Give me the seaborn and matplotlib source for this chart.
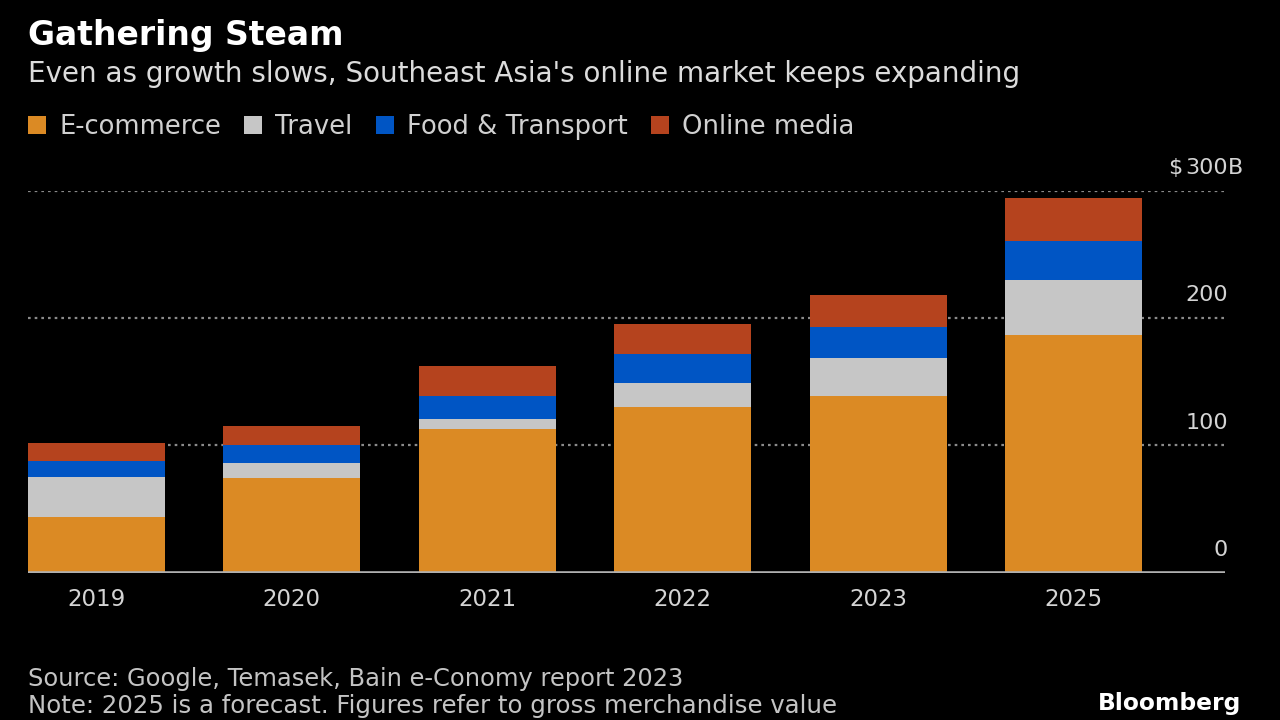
import numpy as np
import pandas as pd
import matplotlib
matplotlib.use("Agg")
import matplotlib.pyplot as plt
import matplotlib.transforms as mtrans
from matplotlib.patches import Patch
import seaborn as sns

# ---- data (US$ billions) ----
years = ["2019", "2020", "2021", "2022", "2023", "2025"]
ecommerce = [43.5, 74, 113, 130, 139, 187]
travel = [32, 12.5, 7.5, 19, 30, 43]
food_transport = [12.5, 13.5, 18.5, 22.5, 24, 30.5]
online_media = [14, 15.5, 23, 24, 25, 34]

series_names = ["E-commerce", "Travel", "Food & Transport", "Online media"]
series_values = [ecommerce, travel, food_transport, online_media]
colors = ["#DB8A24", "#C6C6C6", "#0055C4", "#B5431E"]

y_ticks = [0, 100, 200, 300]
y_tick_labels = ["0", "100", "200", "300"]

title = "Gathering Steam"
subtitle = "Even as growth slows, Southeast Asia's online market keeps expanding"
source = "Source: Google, Temasek, Bain e-Conomy report 2023"
note = "Note: 2025 is a forecast. Figures refer to gross merchandise value"

# ---- build table with cumulative tops ----
df = pd.DataFrame({"year": years})
for name, vals in zip(series_names, series_values):
    df[name] = vals
cum = df[series_names].cumsum(axis=1)

sns.set_theme(style="dark")
plt.rcParams["font.family"] = ["DejaVu Sans"]

W, H = 1280, 720
fig = plt.figure(figsize=(W / 100, H / 100), dpi=100, facecolor="black")
ax = fig.add_axes([28 / W, 1 - 572.7 / H, (1225 - 28) / W, (572.7 - 190.7) / H])
ax.set_facecolor("black")

# stacked bars: tallest cumulative first, lower segments drawn over it
for name, col in reversed(list(zip(series_names, colors))):
    sns.barplot(x=df["year"], y=cum[name], order=years, color=col,
                saturation=1, width=0.70, errorbar=None, ax=ax, zorder=3,
                edgecolor="none", linewidth=0)

ax.set_xlim(-0.35, 5.775)
ax.set_ylim(0, 300)
ax.set_xlabel("")
ax.set_ylabel("")
for s in ax.spines.values():
    s.set_visible(False)
ax.grid(False)

# dotted gridlines
for yv in y_ticks[1:]:
    ax.axhline(yv, color="#8a8a8a", lw=1.6, ls=(0, (1.2, 1.8)), zorder=1)
ax.axhline(0, color="#b0b0b0", lw=2.6, zorder=4)

ax.set_yticks([])
ax.tick_params(axis="x", length=0, pad=11, labelsize=16.5, colors="#d4d4d4")

# right-side y labels sitting above gridlines
base_tr = mtrans.blended_transform_factory(fig.transFigure, ax.transData)
lab_tr = mtrans.offset_copy(base_tr, fig=fig, y=12, units="points")
tick_texts = []
for yv, lab in zip(y_ticks, y_tick_labels):
    t = ax.text(1228 / W, yv, lab, transform=lab_tr, ha="right", va="baseline",
                fontsize=16, color="#d4d4d4")
    tick_texts.append(t)
top = tick_texts[-1]
ax.annotate("$", xy=(0, 0), xycoords=top, xytext=(-2, 0), textcoords="offset points",
            ha="right", va="bottom", fontsize=16, color="#d4d4d4")
ax.annotate("B", xy=(1, 0), xycoords=top, xytext=(0, 0), textcoords="offset points",
            ha="left", va="bottom", fontsize=16, color="#d4d4d4")

# titles
fig.text(28 / W, 1 - 45 / H, title, fontsize=23.8, fontweight="bold",
         color="white", ha="left", va="baseline")
fig.text(28 / W, 1 - 82 / H, subtitle, fontsize=20, color="#dcdcdc",
         ha="left", va="baseline")

# legend
handles = [Patch(facecolor=c, edgecolor="none", label=n)
           for n, c in zip(series_names, colors)]
leg = fig.legend(handles=handles, loc="center left",
                 bbox_to_anchor=(28 / W, 1 - 127 / H), ncol=4, frameon=False,
                 fontsize=18.6, handlelength=0.7, handleheight=0.7,
                 handletextpad=0.5, columnspacing=0.9, borderpad=0,
                 borderaxespad=0)
for t in leg.get_texts():
    t.set_color("#d0d0d0")

# footer
fig.text(28 / W, 1 - 686 / H, source, fontsize=17.4, color="#c4c4c4",
         ha="left", va="baseline")
fig.text(28 / W, 1 - 713 / H, note, fontsize=17.6, color="#c4c4c4",
         ha="left", va="baseline")
fig.text(1241 / W, 1 - 710 / H, "Bloomberg", fontsize=16.8, fontweight="bold",
         color="white", ha="right", va="baseline")

fig.savefig("out.png", dpi=100, facecolor="black")
